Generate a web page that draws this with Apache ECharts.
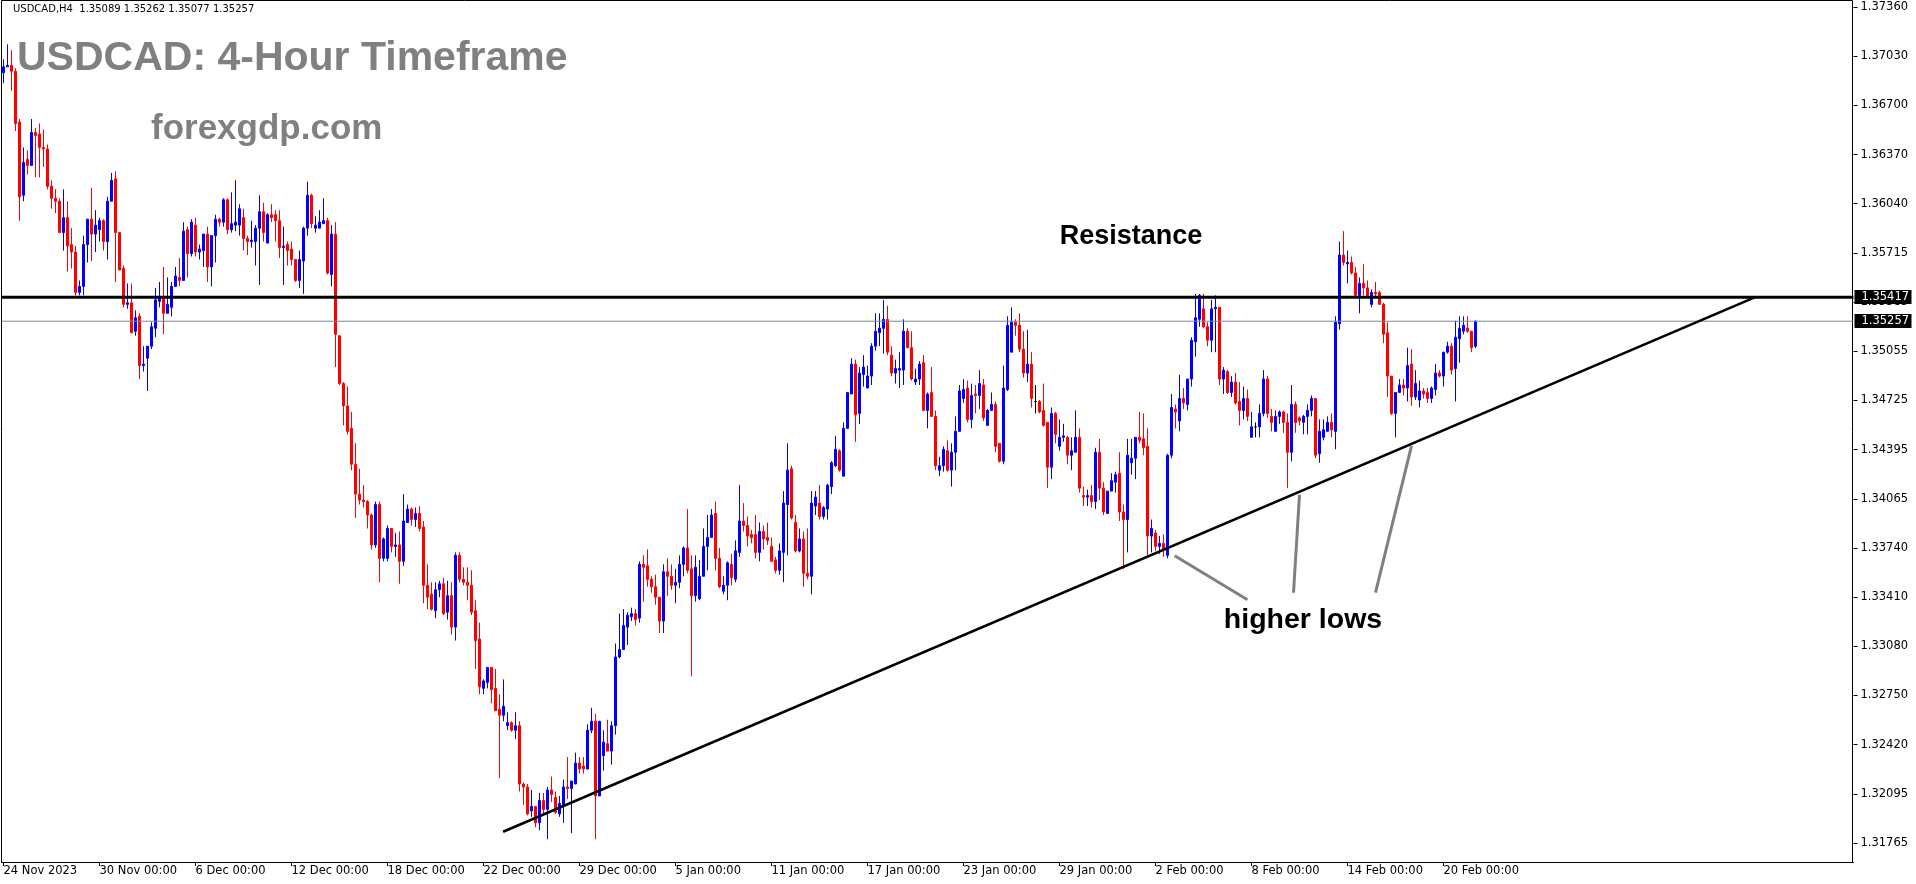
<!DOCTYPE html>
<html><head><meta charset="utf-8">
<script src="https://cdn.jsdelivr.net/npm/echarts@6/dist/echarts.min.js"></script>
<style>html,body{margin:0;padding:0;background:#fff;}#c{width:1916px;height:884px;}</style>
</head><body><div id="c"></div>
<script>
// ---- DATA ----
const symbolName = "USDCAD,H4";
const opens = [1.3692,1.3696,1.3697,1.3693,1.3659,1.3610,1.3634,1.3630,1.3652,1.3651,
1.3642,1.3641,1.3616,1.3608,1.3606,1.3585,1.3595,1.3577,1.3572,1.3545,
1.3549,1.3577,1.3594,1.3584,1.3587,1.3593,1.3579,1.3606,1.3621,1.3585,
1.3561,1.3537,1.3538,1.3519,1.3529,1.3496,1.3501,1.3509,1.3521,1.3539,
1.3541,1.3531,1.3535,1.3549,1.3555,1.3553,1.3587,1.3571,1.3590,1.3572,
1.3573,1.3584,1.3562,1.3583,1.3594,1.3592,1.3607,1.3587,1.3590,1.3590,
1.3595,1.3581,1.3579,1.3579,1.3588,1.3599,1.3578,1.3597,1.3597,1.3593,
1.3575,1.3577,1.3574,1.3567,1.3553,1.3566,1.3588,1.3610,1.3588,1.3588,
1.3591,1.3593,1.3557,1.3584,1.3516,1.3484,1.3469,1.3454,1.3430,1.3410,
1.3406,1.3405,1.3396,1.3376,1.3403,1.3367,1.3367,1.3387,1.3375,1.3376,
1.3365,1.3391,1.3400,1.3393,1.3397,1.3388,1.3349,1.3343,1.3332,1.3346,
1.3350,1.3331,1.3342,1.3321,1.3369,1.3353,1.3351,1.3349,1.3332,1.3313,
1.3280,1.3284,1.3294,1.3280,1.3266,1.3262,1.3255,1.3257,1.3252,1.3255,
1.3216,1.3214,1.3198,1.3201,1.3190,1.3205,1.3199,1.3212,1.3207,1.3196,
1.3202,1.3214,1.3213,1.3216,1.3230,1.3228,1.3226,1.3252,1.3258,1.3208,
1.3235,1.3243,1.3238,1.3255,1.3301,1.3306,1.3321,1.3328,1.3330,1.3327,
1.3363,1.3362,1.3353,1.3348,1.3341,1.3325,1.3358,1.3355,1.3349,1.3351,
1.3363,1.3374,1.3360,1.3342,1.3340,1.3355,1.3375,1.3381,1.3397,1.3367,
1.3345,1.3349,1.3363,1.3353,1.3371,1.3392,1.3389,1.3383,1.3383,1.3371,
1.3385,1.3381,1.3375,1.3366,1.3359,1.3371,1.3403,1.3427,1.3391,1.3372,
1.3380,1.3357,1.3355,1.3402,1.3404,1.3395,1.3400,1.3415,1.3429,1.3439,
1.3422,1.3454,1.3477,1.3497,1.3464,1.3490,1.3481,1.3489,1.3509,1.3518,
1.3521,1.3527,1.3503,1.3491,1.3493,1.3493,1.3519,1.3508,1.3485,1.3487,
1.3498,1.3466,1.3478,1.3462,1.3426,1.3429,1.3439,1.3426,1.3438,1.3452,
1.3474,1.3481,1.3460,1.3477,1.3476,1.3483,1.3456,1.3466,1.3470,1.3444,
1.3432,1.3480,1.3505,1.3525,1.3523,1.3507,1.3491,1.3497,1.3472,1.3472,
1.3466,1.3458,1.3428,1.3464,1.3442,1.3448,1.3448,1.3436,1.3438,1.3448,
1.3409,1.3408,1.3409,1.3405,1.3438,1.3414,1.3397,1.3412,1.3418,1.3424,
1.3398,1.3393,1.3431,1.3434,1.3448,1.3447,1.3442,1.3382,1.3384,1.3375,
1.3377,1.3369,1.3436,1.3467,1.3459,1.3474,1.3470,1.3487,1.3512,1.3527,
1.3534,1.3522,1.3513,1.3534,1.3535,1.3487,1.3492,1.3478,1.3485,1.3472,
1.3466,1.3474,1.3448,1.3455,1.3455,1.3464,1.3487,1.3462,1.3452,1.3462,
1.3465,1.3458,1.3438,1.3470,1.3461,1.3458,1.3462,1.3466,1.3474,1.3437,
1.3448,1.3452,1.3458,1.3452,1.3524,1.3570,1.3564,1.3565,1.3558,1.3543,
1.3551,1.3548,1.3537,1.3545,1.3545,1.3537,1.3518,1.3489,1.3464,1.3478,
1.3483,1.3481,1.3497,1.3475,1.3473,1.3479,1.3478,1.3474,1.3480,1.3491,
1.3489,1.3505,1.3509,1.3494,1.3514,1.3519,1.3521,1.3519,1.35089];
const closes = [1.3696,1.3697,1.3693,1.3658,1.3609,1.3632,1.3630,1.3652,1.3650,1.3642,
1.3641,1.3616,1.3608,1.3606,1.3585,1.3595,1.3576,1.3572,1.3545,1.3549,
1.3577,1.3594,1.3584,1.3590,1.3593,1.3579,1.3606,1.3620,1.3585,1.3560,
1.3537,1.3538,1.3518,1.3528,1.3496,1.3497,1.3509,1.3522,1.3540,1.3541,
1.3531,1.3537,1.3549,1.3556,1.3553,1.3586,1.3571,1.3592,1.3572,1.3574,
1.3584,1.3562,1.3583,1.3594,1.3592,1.3607,1.3587,1.3591,1.3592,1.3601,
1.3581,1.3579,1.3580,1.3588,1.3599,1.3585,1.3597,1.3595,1.3593,1.3575,
1.3576,1.3573,1.3567,1.3553,1.3567,1.3588,1.3610,1.3591,1.3590,1.3592,
1.3593,1.3558,1.3584,1.3517,1.3484,1.3469,1.3452,1.3430,1.3410,1.3406,
1.3405,1.3396,1.3376,1.3403,1.3367,1.3380,1.3387,1.3375,1.3376,1.3365,
1.3392,1.3400,1.3393,1.3397,1.3387,1.3349,1.3341,1.3333,1.3346,1.3350,
1.3330,1.3342,1.3321,1.3369,1.3353,1.3351,1.3349,1.3331,1.3312,1.3281,
1.3285,1.3294,1.3279,1.3265,1.3262,1.3268,1.3257,1.3252,1.3255,1.3216,
1.3214,1.3196,1.3201,1.3190,1.3205,1.3199,1.3212,1.3209,1.3197,1.3203,
1.3214,1.3213,1.3218,1.3230,1.3226,1.3226,1.3252,1.3258,1.3208,1.3258,
1.3244,1.3238,1.3255,1.3301,1.3306,1.3322,1.3329,1.3330,1.3326,1.3363,
1.3361,1.3353,1.3348,1.3341,1.3325,1.3358,1.3355,1.3349,1.3351,1.3363,
1.3374,1.3359,1.3342,1.3361,1.3355,1.3375,1.3381,1.3396,1.3367,1.3348,
1.3349,1.3364,1.3354,1.3372,1.3392,1.3389,1.3382,1.3381,1.3371,1.3385,
1.3380,1.3379,1.3365,1.3359,1.3372,1.3404,1.3426,1.3394,1.3372,1.3380,
1.3357,1.3355,1.3404,1.3408,1.3395,1.3401,1.3416,1.3431,1.3440,1.3426,
1.3454,1.3478,1.3497,1.3463,1.3491,1.3495,1.3489,1.3509,1.3519,1.3521,
1.3527,1.3505,1.3491,1.3494,1.3494,1.3519,1.3508,1.3487,1.3487,1.3497,
1.3466,1.3477,1.3462,1.3429,1.3429,1.3440,1.3426,1.3438,1.3452,1.3479,
1.3480,1.3460,1.3476,1.3476,1.3484,1.3461,1.3466,1.3470,1.3442,1.3432,
1.3481,1.3523,1.3525,1.3523,1.3507,1.3491,1.3497,1.3474,1.3472,1.3465,
1.3456,1.3428,1.3464,1.3450,1.3448,1.3449,1.3436,1.3439,1.3448,1.3414,
1.3408,1.3409,1.3405,1.3438,1.3414,1.3398,1.3412,1.3419,1.3423,1.3398,
1.3393,1.3436,1.3434,1.3448,1.3446,1.3441,1.3382,1.3387,1.3375,1.3377,
1.3373,1.3436,1.3468,1.3465,1.3474,1.3471,1.3487,1.3513,1.3528,1.3543,
1.3522,1.3513,1.3534,1.3535,1.3487,1.3493,1.3478,1.3485,1.3471,1.3466,
1.3474,1.3462,1.3455,1.3455,1.3464,1.3487,1.3464,1.3458,1.3462,1.3465,
1.3458,1.3438,1.3470,1.3458,1.3459,1.3462,1.3466,1.3474,1.3436,1.3452,
1.3453,1.3458,1.3453,1.3525,1.3570,1.3565,1.3565,1.3558,1.3543,1.3551,
1.3548,1.3543,1.3545,1.3544,1.3537,1.3517,1.3489,1.3464,1.3478,1.3483,
1.3481,1.3496,1.3475,1.3484,1.3479,1.3477,1.3474,1.3481,1.3491,1.3489,
1.3505,1.3509,1.3493,1.3515,1.3521,1.3523,1.3519,1.3508,1.35257];
const lows = [1.3685,1.3696,1.3680,1.3653,1.3593,1.3606,1.3624,1.3630,1.3622,1.3622,
1.3629,1.3614,1.3601,1.3598,1.3585,1.3573,1.3559,1.3561,1.3543,1.3543,
1.3543,1.3565,1.3566,1.3572,1.3579,1.3573,1.3567,1.3606,1.3552,1.3560,
1.3535,1.3534,1.3518,1.3516,1.3487,1.3492,1.3479,1.3507,1.3515,1.3535,
1.3517,1.3531,1.3529,1.3549,1.3549,1.3553,1.3555,1.3569,1.3569,1.3567,
1.3562,1.3552,1.3549,1.3565,1.3589,1.3589,1.3584,1.3585,1.3586,1.3583,
1.3573,1.3570,1.3575,1.3563,1.3550,1.3579,1.3578,1.3592,1.3579,1.3568,
1.3550,1.3563,1.3563,1.3552,1.3548,1.3544,1.3583,1.3588,1.3585,1.3588,
1.3591,1.3557,1.3549,1.3495,1.3483,1.3456,1.3450,1.3426,1.3394,1.3403,
1.3401,1.3387,1.3373,1.3374,1.3351,1.3365,1.3365,1.3371,1.3368,1.3350,
1.3362,1.3391,1.3389,1.3388,1.3385,1.3337,1.3333,1.3332,1.3327,1.3341,
1.3329,1.3326,1.3316,1.3312,1.3351,1.3349,1.3339,1.3329,1.3293,1.3276,
1.3276,1.3280,1.3270,1.3265,1.3220,1.3258,1.3252,1.3251,1.3246,1.3211,
1.3202,1.3195,1.3194,1.3187,1.3185,1.3196,1.3179,1.3204,1.3196,1.3194,
1.3190,1.3206,1.3183,1.3216,1.3223,1.3223,1.3226,1.3250,1.3179,1.3208,
1.3225,1.3238,1.3229,1.3249,1.3300,1.3306,1.3309,1.3325,1.3322,1.3324,
1.3338,1.3348,1.3344,1.3336,1.3317,1.3317,1.3342,1.3346,1.3337,1.3347,
1.3355,1.3357,1.3288,1.3338,1.3339,1.3355,1.3359,1.3381,1.3359,1.3347,
1.3343,1.3339,1.3349,1.3351,1.3368,1.3385,1.3375,1.3377,1.3367,1.3365,
1.3373,1.3376,1.3365,1.3357,1.3356,1.3351,1.3369,1.3393,1.3371,1.3371,
1.3348,1.3353,1.3343,1.3396,1.3393,1.3393,1.3393,1.3410,1.3428,1.3425,
1.3422,1.3454,1.3477,1.3445,1.3457,1.3482,1.3481,1.3483,1.3506,1.3509,
1.3504,1.3503,1.3489,1.3484,1.3481,1.3483,1.3508,1.3486,1.3483,1.3483,
1.3466,1.3454,1.3462,1.3426,1.3422,1.3425,1.3425,1.3415,1.3426,1.3452,
1.3471,1.3458,1.3454,1.3464,1.3467,1.3459,1.3456,1.3466,1.3438,1.3431,
1.3430,1.3479,1.3505,1.3516,1.3505,1.3488,1.3485,1.3468,1.3464,1.3464,
1.3455,1.3414,1.3420,1.3444,1.3439,1.3445,1.3430,1.3426,1.3438,1.3411,
1.3402,1.3402,1.3401,1.3400,1.3406,1.3396,1.3397,1.3412,1.3411,1.3392,
1.3360,1.3371,1.3423,1.3420,1.3444,1.3436,1.3369,1.3371,1.3372,1.3370,
1.3368,1.3367,1.3434,1.3454,1.3452,1.3467,1.3466,1.3482,1.3502,1.3522,
1.3521,1.3509,1.3505,1.3505,1.3483,1.3477,1.3477,1.3475,1.3470,1.3456,
1.3460,1.3459,1.3448,1.3448,1.3448,1.3462,1.3461,1.3452,1.3452,1.3457,
1.3451,1.3414,1.3432,1.3451,1.3456,1.3450,1.3450,1.3462,1.3434,1.3431,
1.3446,1.3452,1.3448,1.3440,1.3520,1.3563,1.3551,1.3557,1.3543,1.3531,
1.3543,1.3542,1.3535,1.3542,1.3537,1.3511,1.3475,1.3463,1.3448,1.3478,
1.3476,1.3472,1.3469,1.3473,1.3468,1.3474,1.3471,1.3471,1.3476,1.3488,
1.3482,1.3504,1.3490,1.3472,1.3498,1.3517,1.3518,1.3505,1.35077];
const highs = [1.3701,1.3711,1.3707,1.3695,1.3661,1.3642,1.3640,1.3661,1.3655,1.3658,
1.3654,1.3644,1.3620,1.3614,1.3608,1.3614,1.3606,1.3588,1.3576,1.3553,
1.3583,1.3594,1.3615,1.3600,1.3595,1.3594,1.3609,1.3625,1.3626,1.3585,
1.3563,1.3551,1.3551,1.3533,1.3531,1.3509,1.3509,1.3525,1.3548,1.3552,
1.3562,1.3555,1.3552,1.3562,1.3568,1.3592,1.3589,1.3594,1.3595,1.3577,
1.3584,1.3589,1.3583,1.3597,1.3595,1.3608,1.3608,1.3612,1.3620,1.3604,
1.3601,1.3583,1.3593,1.3590,1.3610,1.3605,1.3598,1.3604,1.3600,1.3600,
1.3589,1.3579,1.3579,1.3567,1.3573,1.3589,1.3619,1.3611,1.3596,1.3600,
1.3608,1.3595,1.3590,1.3592,1.3516,1.3485,1.3482,1.3465,1.3444,1.3427,
1.3416,1.3406,1.3397,1.3405,1.3405,1.3381,1.3389,1.3387,1.3384,1.3385,
1.3410,1.3403,1.3401,1.3401,1.3402,1.3392,1.3363,1.3351,1.3351,1.3352,
1.3354,1.3352,1.3351,1.3371,1.3371,1.3361,1.3361,1.3359,1.3339,1.3324,
1.3286,1.3294,1.3294,1.3293,1.3276,1.3286,1.3264,1.3258,1.3264,1.3258,
1.3217,1.3216,1.3212,1.3201,1.3210,1.3210,1.3214,1.3221,1.3211,1.3208,
1.3219,1.3234,1.3218,1.3237,1.3234,1.3234,1.3256,1.3267,1.3263,1.3258,
1.3252,1.3259,1.3258,1.3310,1.3330,1.3333,1.3331,1.3334,1.3333,1.3365,
1.3369,1.3373,1.3355,1.3356,1.3341,1.3363,1.3367,1.3363,1.3360,1.3369,
1.3375,1.3400,1.3369,1.3369,1.3366,1.3387,1.3396,1.3400,1.3405,1.3374,
1.3355,1.3365,1.3370,1.3379,1.3416,1.3404,1.3395,1.3386,1.3396,1.3391,
1.3389,1.3391,1.3381,1.3368,1.3377,1.3412,1.3444,1.3429,1.3396,1.3387,
1.3385,1.3387,1.3412,1.3412,1.3416,1.3402,1.3417,1.3432,1.3449,1.3440,
1.3458,1.3478,1.3501,1.3500,1.3495,1.3503,1.3496,1.3511,1.3531,1.3531,
1.3540,1.3536,1.3509,1.3500,1.3505,1.3527,1.3521,1.3519,1.3494,1.3499,
1.3503,1.3478,1.3495,1.3466,1.3435,1.3442,1.3446,1.3444,1.3462,1.3483,
1.3487,1.3486,1.3484,1.3483,1.3493,1.3487,1.3467,1.3478,1.3472,1.3444,
1.3496,1.3529,1.3535,1.3527,1.3531,1.3519,1.3520,1.3505,1.3483,1.3473,
1.3484,1.3458,1.3468,1.3465,1.3460,1.3457,1.3449,1.3448,1.3466,1.3454,
1.3415,1.3413,1.3416,1.3441,1.3447,1.3418,1.3412,1.3424,1.3425,1.3438,
1.3403,1.3447,1.3447,1.3448,1.3465,1.3464,1.3454,1.3393,1.3386,1.3382,
1.3383,1.3437,1.3477,1.3470,1.3490,1.3481,1.3487,1.3515,1.3544,1.3544,
1.3544,1.3525,1.3540,1.3543,1.3535,1.3495,1.3493,1.3489,1.3491,1.3485,
1.3482,1.3480,1.3465,1.3458,1.3470,1.3493,1.3489,1.3467,1.3466,1.3466,
1.3466,1.3464,1.3483,1.3472,1.3462,1.3463,1.3470,1.3476,1.3474,1.3460,
1.3460,1.3462,1.3464,1.3529,1.3579,1.3586,1.3573,1.3569,1.3562,1.3555,
1.3564,1.3553,1.3547,1.3552,1.3546,1.3538,1.3525,1.3489,1.3478,1.3487,
1.3487,1.3508,1.3507,1.3493,1.3486,1.3481,1.3481,1.3482,1.3497,1.3493,
1.3505,1.3512,1.3511,1.3526,1.3529,1.3529,1.3529,1.3519,1.35262];
const xTickLabels = ["24 Nov 2023","30 Nov 00:00","6 Dec 00:00","12 Dec 00:00","18 Dec 00:00","22 Dec 00:00","29 Dec 00:00","5 Jan 00:00","11 Jan 00:00","17 Jan 00:00","23 Jan 00:00","29 Jan 00:00","2 Feb 00:00","8 Feb 00:00","14 Feb 00:00","20 Feb 00:00"];
const yTickLabels = ["1.31765","1.32095","1.32420","1.32750","1.33080","1.33410","1.33740","1.34065","1.34395","1.34725","1.35055","1.35385","1.35715","1.36040","1.36370","1.36700","1.37030","1.37360"];
const yMin = 1.31765, yMax = 1.37360;
const resistanceLevel = 1.35417;
const bidLevel = 1.35257;
const trendLinePts = [[124.9, 1.31840], [437.8, 1.35417]];
const arrowLines = [
  [[292.8, 1.33687], [311.0, 1.33393]],
  [[324.0, 1.34095], [322.5, 1.33440]],
  [[352.0, 1.34423], [343.0, 1.33440]]
];
const barSlots = 463;      // visible bar slots incl. right shift
const barsPerLabel = 24;

// ---- CHART ----
const chart = echarts.init(document.getElementById('c'), null, {renderer: 'canvas'});
const n = opens.length;
const cats = Array.from({length: barSlots}, (_, i) => String(i));
const candleData = opens.map((o, i) => {
  const v = [o, closes[i], lows[i], highs[i]];
  if (o === closes[i]) {
    return {value: v, itemStyle: {color: '#000', color0: '#000', borderColor: '#000', borderColor0: '#000'}};
  }
  return v;
});
const isLabelIdx = (idx) => idx % barsPerLabel === 0 && idx / barsPerLabel < xTickLabels.length;
const axisFont = '"DejaVu Sans", sans-serif';
const xEnds = [-0.5, barSlots - 0.5];
const lineSeries = [];
lineSeries.push({
  type: 'line', xAxisIndex: 1, yAxisIndex: 0, data: xEnds.map(x => [x, bidLevel]), symbol: 'none', silent: true,
  lineStyle: {color: '#778899', width: 1}, z: 3, animation: false
});
lineSeries.push({
  type: 'line', xAxisIndex: 1, yAxisIndex: 0, data: xEnds.map(x => [x, resistanceLevel]), symbol: 'none', silent: true,
  lineStyle: {color: '#000', width: 3}, z: 4, animation: false
});
lineSeries.push({
  type: 'line', xAxisIndex: 1, yAxisIndex: 0, data: trendLinePts, symbol: 'none', silent: true,
  lineStyle: {color: '#000', width: 2.6}, z: 5, animation: false
});
arrowLines.forEach(a => lineSeries.push({
  type: 'line', xAxisIndex: 1, yAxisIndex: 0, data: a, symbol: 'none', silent: true,
  lineStyle: {color: '#808080', width: 3}, z: 5, animation: false
}));
const infoText = symbolName + '  ' + [opens[n-1], highs[n-1], lows[n-1], closes[n-1]].map(v => v.toFixed(5)).join(' ');

chart.setOption({
  animation: false,
  backgroundColor: '#fff',
  grid: {left: 1.5, right: 62.5, top: 7, bottom: 41, containLabel: false, outerBoundsMode: 'none'},
  xAxis: [{
    type: 'category', data: cats, boundaryGap: true, offset: 19,
    axisLine: {show: true, onZero: false, lineStyle: {color: '#000', width: 1}},
    axisTick: {show: true, alignWithLabel: true, interval: (i) => isLabelIdx(i), length: 4, lineStyle: {color: '#000'}},
    axisLabel: {show: true, interval: (i) => isLabelIdx(i), formatter: (v, i) => xTickLabels[i / barsPerLabel] || '',
      align: 'left', margin: 3, color: '#000', fontSize: 11.5, fontFamily: axisFont},
    splitLine: {show: false}
  }, {
    type: 'value', min: xEnds[0], max: xEnds[1], show: false
  }],
  yAxis: [{
    type: 'value', min: yMin, max: yMax, show: false, splitLine: {show: false}
  }, {
    type: 'value', min: 0, max: yTickLabels.length - 1, interval: 1, position: 'right',
    axisLine: {show: false},
    axisTick: {show: true, length: 4, lineStyle: {color: '#000'}},
    axisLabel: {show: true, formatter: (v) => yTickLabels[Math.round(v)], color: '#000', fontSize: 11.5,
      fontFamily: axisFont, margin: 7},
    splitLine: {show: false}
  }],
  series: [{
    type: 'candlestick', xAxisIndex: 0, yAxisIndex: 0, data: candleData, barWidth: 2, z: 2,
    itemStyle: {color: '#0000FF', color0: '#FF0000', borderColor: '#0000FF', borderColor0: '#FF0000', borderWidth: 1}
  }].concat(lineSeries)
});

// price tags on the right axis, placed through the library's own scale
const gx = chart.convertToPixel({xAxisIndex: 1}, xEnds[1]);
const tags = [];
[bidLevel, resistanceLevel].forEach((lvl) => {
  const y = Math.round(chart.convertToPixel({yAxisIndex: 0}, lvl));
  tags.push({type: 'rect', shape: {x: gx + 1, y: y - 7, width: 57, height: 14}, style: {fill: '#000'}, z: 20, silent: true});
  tags.push({type: 'text', x: gx + 8, y: y, style: {text: lvl.toFixed(5), font: '11.5px ' + axisFont, fill: '#fff', textVerticalAlign: 'middle'}, z: 21, silent: true});
});
chart.setOption({
  graphic: [
    {type: 'rect', shape: {x: 1.5, y: 0.5, width: 1851, height: 862}, style: {fill: null, stroke: '#000', lineWidth: 1}, silent: true, z: 1},
    {type: 'text', x: 13, y: 4, style: {text: infoText, font: '10px ' + axisFont, fill: '#000'}, z: 10, silent: true},
    {type: 'text', x: 17, y: 59, style: {text: 'USDCAD: 4-Hour Timeframe', font: 'bold 41px "Liberation Sans", Arial, sans-serif', fill: '#808080', textVerticalAlign: 'middle'}, z: 10, silent: true},
    {type: 'text', x: 151, y: 129, style: {text: 'forexgdp.com', font: 'bold 35px "Liberation Sans", Arial, sans-serif', fill: '#808080', textVerticalAlign: 'middle'}, z: 10, silent: true},
    {type: 'text', x: 1131, y: 237, style: {text: 'Resistance', font: 'bold 27px "Liberation Sans", Arial, sans-serif', fill: '#000', textAlign: 'center', textVerticalAlign: 'middle'}, z: 10, silent: true},
    {type: 'text', x: 1303, y: 620, style: {text: 'higher lows', font: 'bold 28.5px "Liberation Sans", Arial, sans-serif', fill: '#000', textAlign: 'center', textVerticalAlign: 'middle'}, z: 10, silent: true}
  ].concat(tags)
});
</script></body></html>
